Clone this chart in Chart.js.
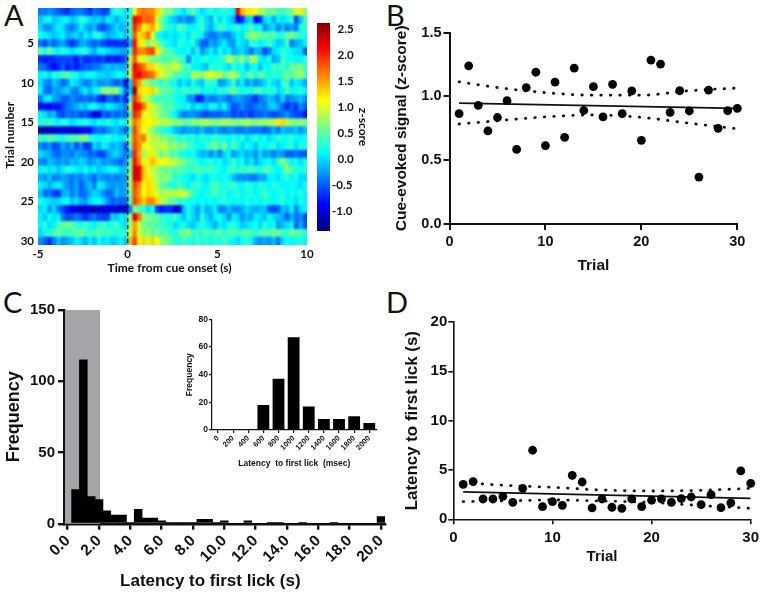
<!DOCTYPE html>
<html>
<head>
<meta charset="utf-8">
<script src="https://cdn.jsdelivr.net/npm/chart.js@4"></script>
<style>
  html, body { margin: 0; padding: 0; background: #fff; width: 762px; height: 594px; overflow: hidden; }
  canvas { position: absolute; }
  .letter { position: absolute; font: 29px Lato, sans-serif; color: #111; line-height: 29px; }
</style>
</head>
<body>
<div class="letter" style="left:4px;top:0px">A</div>
<div class="letter" style="left:386px;top:0px">B</div>
<div class="letter" style="left:3px;top:287px">C</div>
<div class="letter" style="left:386px;top:287px">D</div>
<canvas id="heat" style="left:0;top:0" width="318" height="275"></canvas>
<canvas id="bar" style="left:312px;top:0" width="58" height="250"></canvas>
<canvas id="cueChart" style="left:392px;top:20px" width="370" height="255"></canvas>
<canvas id="histChart" style="left:3px;top:295px" width="392" height="297"></canvas>
<canvas id="insetChart" style="left:185px;top:310px" width="200" height="159"></canvas>
<canvas id="latChart" style="left:402px;top:300px" width="360" height="266"></canvas>
<script>
// Heatmap: trials x 0.25 s bins from -5 to 10 s
const trialLabels = ["1","2","3","4","5","6","7","8","9","10","11","12","13","14","15","16","17","18","19","20","21","22","23","24","25","26","27","28","29","30"];
const binStarts = [-5,-4.75,-4.5,-4.25,-4,-3.75,-3.5,-3.25,-3,-2.75,-2.5,-2.25,-2,-1.75,-1.5,-1.25,-1,-0.75,-0.5,-0.25,0,0.25,0.5,0.75,1,1.25,1.5,1.75,2,2.25,2.5,2.75,3,3.25,3.5,3.75,4,4.25,4.5,4.75,5,5.25,5.5,5.75,6,6.25,6.5,6.75,7,7.25,7.5,7.75,8,8.25,8.5,8.75,9,9.25,9.5,9.75];
const zScores = [
  [-.4,-.4,-.3,-.4,-.5,-.6,-.7,-.5,-.4,-.4,-.5,-.7,-.4,-.5,-.6,-.6,.1,.3,.2,.0, .2,1.1,1.6,1.7,1.6,1.6,1.3,.9, .6,.6,.3,.2,.0,.3,.5,.2,.0,.1,.3,.1,.2,.3,.2,.1, 2.2,1.4,1.2,1.2,1.1,.8,.7,.5,.6,.4,.3,.5,.6,1.0,1.2,.7],
  [-.1,.1,.2,-.1,.0,.1,.1,-.1,.0,.3,.2,.0,-.1,.0,-.2,.1,.0,-.2,.0,.0, .4,2.2,2.0,1.7,1.8,1.7,.9,.6, .2,.0,-.1,-.3,-.2,-.4,-.3,.1,.3,.0,-.2,.3,.0,.2,.0,-.2, -.9,-.7,-.1,.0,-.9,-.7,.0,.1,-.2,.1,.0,.1,.3,-.6,-.1,.4],
  [.0,-.3,-.3,-.1,.1,.0,-.3,-.4,-.2,.1,-.1,-.3,-.1,-.5,-.6,-.4,-.2,.0,-.2,-.1, .4,2.0,1.6,1.0,1.3,1.5,1.1,.6, .3,.2,.1,.5,.3,.1,.1,.2,.4,.0,-.2,.1,.4,.3,.1,.2, .3,.1,.2,.4,.1,.2,-.3,-.1,.0,-.4,-.1,-.4,-.2,-.4,.2,.3],
  [.2,.1,.0,-.1,.0,.1,-.2,-.1,.0,-.2,.1,-.1,.2,.3,.0,-.2,-.1,.0,.1,-.1, .3,1.8,1.2,1.4,1.7,1.0,.2,.1, .0,.1,.0,.1,.2,.0,.3,.2,.1,-.3,-.4,-.4,-.2,-.3,-.4,-.1, .1,.0,.5,.7,.7,.5,.5,.4,.5,.2,.3,.5,.6,.4,.3,.2],
  [-.4,-.6,-.3,-.5,-.3,-.2,-.5,-.7,-.5,-.2,-.2,-.4,-.5,-.4,-.6,-.7,-.7,-.7,-.7,-.7, -.2,2.1,1.2,1.0,.6,.9,.7,.4, .2,.1,.0,.3,.2,.1,.3,-.1,-.5,-.5,-.2,-.3,-.1,.1,-.2,-.3, .1,.0,-.1,.3,.3,.1,.2,.4,.1,-.1,.0,.4,-.4,-.2,-.1,.1],
  [.5,.2,.6,.2,.1,.3,.1,.0,.1,.2,.3,.0,-.2,.1,.1,.0,-.1,-.1,-.2,-.2, .3,2.0,1.6,1.6,1.8,1.9,1.2,.7, .5,.4,.2,.1,.1,.2,-.1,.2,-.3,-.1,.1,-.1,.2,.0,.1,-.2, -.1,.0,-.2,-.4,-.1,-.2,-.6,-.4,.0,.1,.3,.2,.1,.0,.0,-.5],
  [-.7,-.8,-.7,-.7,-.6,-.6,-.6,-.6,-.8,-.5,-.7,-.7,-.6,-.7,-.6,-.8,-.7,-.8,-.7,-.5, .9,1.8,1.0,1.0,.8,.6,.6,.4, .4,.5,.6,.4,.3,-.4,.2,.1,.2,.3,.1,.2,.2,.4,.9,.6, .4,.8,.2,.9,.7,.1,.0,.2,-.2,-.1,.4,.2,.2,.1,.1,.3],
  [-.4,-.5,-.7,-.9,-.7,-.5,-.8,-.6,-.8,-.6,-.5,-.5,-.4,-.4,-.2,-.1,-.2,-.1,-.2,-.2, .8,2.2,1.9,1.7,1.3,1.3,1.0,.9, .8,.8,1.0,.8,.4,.4,.1,.1,.0,-.1,.3,.2,.3,.1,.0,.3, .1,.2,-.1,.1,.2,-.1,.2,.1,.4,.3,.4,.2,.6,.5,.7,.3],
  [.1,.2,.0,.3,.2,.4,.5,.3,.2,.0,.1,.2,.1,.0,.0,-.1,.0,.1,.2,.0, .9,2.1,2.2,1.9,1.8,1.7,1.3,1.0, .8,.7,.4,.4,.3,.2,.9,.8,.6,1.0,1.0,.9,.9,.5,.7,.9, .6,.2,.3,.6,.2,.5,.4,.2,.3,.2,.4,.6,.4,.7,.8,.4],
  [.0,-.3,-.4,-.1,-.2,-.5,-.3,.1,.0,-.2,-.4,-.3,-.1,-.3,-.3,-.2,-.4,-.5,-.4,-1.0, -.1,1.9,1.5,.8,.7,.5,.4,.3, .5,.2,.2,-.1,.1,-.1,.2,.0,-.1,.3,.3,.2,-.3,-.2,.0,.3, -.1,.1,-.3,-.1,-.3,-.2,.0,.2,.0,-.1,.3,.4,-.1,.1,.0,-.2],
  [.1,-.4,-.5,-.2,-.3,-.1,.0,-.3,-.4,-.1,.1,-.2,.1,.2,.7,.7,.6,.8,.1,-.5, -.1,2.6,1.3,1.2,1.2,1.3,.9,.5, .5,.5,.3,.2,.4,.3,.3,.4,.1,.2,.2,.1,.3,.2,.4,.6, .3,.2,.3,.2,.4,.4,.2,.3,.3,.0,.1,.5,.1,.2,.3,.1],
  [-.4,.0,.1,-.2,-.3,-.5,-.5,-.3,-.4,-.5,-.4,-.5,-.4,-.7,-.8,-.5,-.5,-.7,-.4,-.8, .3,2.0,1.5,.9,.8,.5,.3,.4, .3,.4,.2,.1,.1,-.3,-.3,-.8,-.7,-.3,-.4,-.4,-.2,-.3,-.5,-.3, -.2,-.3,-.4,-.5,-.7,-.4,-.3,-.1,-.2,-.4,.0,-.4,-.3,-.2,-.1,-.3],
  [-.8,-.8,-.9,-.8,-.8,-.6,-.4,-.3,-.2,.0,-.1,.1,.2,.0,-.1,.1,.0,-.1,-.2,-.4, .9,2.3,2.1,1.7,1.2,.9,.7,.6, .4,.5,.3,.2,.1,.2,-.1,.1,.0,-.1,.2,.1,-.1,.2,-.2,-.6, -.5,-.3,-.5,-.5,-.4,-.3,-.4,-.1,.0,-.2,-.5,-.7,-.5,-.7,-.3,-.5],
  [.1,.0,-.2,-.1,-.5,-.6,-.4,-.5,-.4,-.6,-.5,-.7,-1.0,-1.0,-.5,-.6,-.4,-.5,-.4,-.5, .4,2.0,1.8,1.1,1.0,.9,.8,.6, .5,.3,.1,-.2,-.4,-.3,-.3,-.4,-.5,-.6,-.5,-.5,-.5,-.4,-.4,-.6, -.5,-.6,-.5,-.7,-.5,-.5,-.4,-.5,-.6,-.5,-.4,-.3,-.5,-.6,-.6,-.8],
  [.2,.3,.4,.2,.1,.3,.2,.0,.1,.2,.3,.1,.0,.2,.1,.3,.1,.0,.2,.1, .9,1.7,1.4,1.2,1.1,1.2,.9,.8, .9,.8,.6,.7,.5,.5,.7,.6,.8,.8,.7,.6,.7,.8,.7,.7, .6,.7,.8,.7,.6,.7,.7,.8,.8,1.2,1.3,.8,.7,.6,.7,.6],
  [-1.2,-1.2,-1.1,-1.1,-1.0,-1.0,-1.0,-1.0,-1.1,-.9,-.8,-.9,-.5,-.4,-.5,-.3,-.2,-.1,-.3,-.5, .3,1.9,1.4,1.1,.9,.7,.4,.3, .2,.1,-.1,-.2,-.3,-.2,-.2,-.3,-.1,-.3,-.3,-.2,-.3,-.4,-.3,-.3, -.4,-.4,-.3,-.4,-.4,-.4,-.5,-.4,-.2,-.4,-.1,-.2,-.2,-.1,-.3,-.1],
  [.4,.3,.5,.4,.3,.2,.4,.5,.4,.6,.7,.3,.2,.1,.2,.3,.1,.1,.0,.1, .7,1.8,1.5,1.7,1.0,.8,.9,.6, .7,.4,.5,.2,.4,.2,.3,.1,.3,.2,.2,.4,.2,.2,.1,.3, .1,.3,.0,.1,.3,.1,.2,.0,.1,.3,.2,.2,.3,.1,.1,.2],
  [-.3,-.5,-.3,-.6,-.5,-.2,-.4,-.2,-.6,-.3,-.7,-.6,.0,-.2,.1,.0,-.2,-.1,-.2,-.6, .5,1.9,1.6,1.0,1.1,.9,.8,.9, .9,.6,.8,.5,.6,.4,.3,.2,.1,.3,.5,.6,.3,.7,.1,.5, .2,.0,.2,.1,-.1,.2,.1,.2,.3,.0,.1,.2,.3,.0,.3,.2],
  [.0,-.1,-.2,-.4,-.5,-.3,-.3,-.4,-.2,-.3,-.3,-.5,-.4,-.6,-.6,-.3,-.1,.0,-.2,-.4, -.1,2.0,1.5,.8,.9,1.2,.8,.5, .8,.4,.5,.3,.2,.1,.2,.0,-.2,-.1,-.3,-.1,-.4,.0,.1,-.3, -.1,.0,-.2,-.1,-.3,.0,-.3,-.2,-.4,-.2,-.3,-.5,-.5,-.4,-.5,-.5],
  [-.3,-.4,-.1,-.2,-.3,-.2,-.3,-.1,-.2,.0,-.1,-.3,-.2,-.1,-.3,-.2,-.3,-.4,-.5,-.3, .6,2.1,1.6,1.0,1.2,1.4,1.2,1.1, 1.1,.9,.9,.7,.6,.4,.4,.2,.1,.2,.3,.1,.2,.0,.1,.4, .1,.2,-.1,.1,-.2,.0,.1,.2,.0,.3,.7,.4,.1,.2,.0,.2],
  [.1,.2,.0,.1,-.1,.1,.3,.2,.1,.0,.2,.0,.1,-.1,.0,.1,.2,.1,-.1,-.1, .7,2.3,2.2,1.4,1.0,.9,.7,.6, .5,.6,.4,.5,.4,.3,.3,.5,.4,.3,.4,.3,.2,.1,.3,.4, .2,.4,.3,.4,.3,.2,.5,.4,.2,.1,.3,.7,.4,.3,.2,.3],
  [-.2,-.3,-.1,-.4,-.3,-.2,-.3,-.4,-.3,-.4,-.2,-.3,-.5,-.2,-.3,-.4,-.3,-.4,-.3,-.3, .8,2.3,2.2,1.3,1.2,.9,.8,.6, .7,.5,.3,.3,.2,.1,.0,.2,.1,.0,.2,.2,.1,.2,.1,-.1, -.3,-.3,-.3,-.4,-.4,-.2,-.2,.1,.1,.0,.2,.3,.1,.2,.0,.0],
  [.1,.0,-.2,.0,.1,-.1,-.3,-.4,-.2,-.5,-.3,-.1,-.4,.1,.0,-.2,-.3,-.2,-.3,-.2, .8,1.9,1.6,1.1,1.3,1.2,.8,.5, .4,.3,.2,.5,.2,.1,.3,.4,.2,.1,.3,.5,.3,.2,.3,.4, .2,.1,.3,.2,.1,.3,.2,.1,.3,.2,.1,.1,.2,.1,.0,.2],
  [-.1,-.5,-.4,-.6,-.7,-.2,-.1,-.4,-.2,-.5,-.4,-.2,.0,-.1,-.3,-.5,-.4,-.1,-.3,-.2, .6,1.8,1.5,1.1,1.3,1.2,1.0,.7, .9,.8,.9,.9,1.0,.7,.3,.2,.1,.2,.3,.4,.2,.3,.1,.2, .3,.1,.2,.3,.1,.2,.4,.2,.1,.2,.3,.1,.2,.1,.3,.1],
  [.2,.1,.0,-.1,.0,.1,.2,-.1,.0,-.2,-.3,.0,.1,.2,.0,-.3,-.5,-.4,-.5,-.5, .5,1.9,1.6,1.3,1.6,1.6,1.3,.9, .7,.5,.5,.3,.3,.2,.2,.1,.2,.1,.2,.1,.2,.3,.2,.1, .2,.1,.3,.1,.2,.1,.3,.2,.1,.2,.3,.1,.2,.0,.2,.1],
  [.0,.1,-.3,.0,-.4,-.6,-.8,-.9,-1.0,-1.1,-1.0,-1.1,-1.2,-1.0,-1.1,-1.0,-1.0,-1.1,-1.0,-1.2, -.4,.7,.4,.3,.0,.2,-.6,-.8, -.7,-.7,-1.0,-1.0,-.1,.2,.0,-.3,.1,-.2,-.1,.1,-.4,-.3,-.1,-.3, -.3,-.2,.0,-.1,-.2,-.1,-.1,-.5,-.6,-.5,-.1,-.2,.1,-.4,.0,.1],
  [.1,-.1,.2,.0,.1,-.4,-.6,-.5,-.4,-.5,-.7,-.5,-.4,-.6,-.6,-.6,.0,-.1,.1,.0, .8,2.3,1.7,.7,.6,.5,.5,.3, .3,.2,.4,.1,-.1,.2,.0,-.2,.3,.0,-.2,.1,.2,.0,-.3,.1, .0,-.3,-.1,-.2,.1,.0,-.1,.2,.0,-.1,-.2,-.5,-.2,-.4,-.3,-.6],
  [.1,.3,.0,.1,.4,.5,.6,.5,.3,.2,.4,.2,.1,.3,.4,.2,.3,.4,.1,.0, .8,1.5,.9,.6,.5,.5,.4,.4, .2,.3,.0,.1,.2,.0,-.1,.1,.3,.1,.0,-.2,.1,.0,.2,.3, .1,-.1,.0,.1,.2,.0,.3,.1,.2,-.3,-.1,.0,.1,-.5,-.2,-.5],
  [.0,.2,.3,.4,.5,.4,.3,.4,.5,.6,.4,.3,.4,.5,.3,.4,.3,.2,.4,.2, 1.0,1.6,.9,.7,.7,.5,.6,.4, .5,.3,.2,.5,.6,.7,.3,.4,.3,.5,.3,.4,.5,.3,.4,.5, .3,.4,.5,.4,.3,.4,.5,.4,.6,.5,.4,.3,.6,.5,.4,.3],
  [-.3,-.5,-.7,-.4,-.1,-.3,-.2,-.1,.1,.0,-.2,.1,-.1,.2,.0,.1,-.1,.0,.1,-.1, 1.4,1.9,1.1,1.3,.9,1.3,1.1,.7, .6,.5,.3,.2,.4,.3,.2,.4,.2,.3,.2,.3,.2,.4,.2,.1, .0,.2,.3,.1,-.2,-.3,-.2,-.3,-.1,-.4,.0,.2,.1,.2,.3,.1]
];
const zMin = -1.37, zMax = 2.63;
const barTicks = [-1, -0.5, 0, 0.5, 1, 1.5, 2, 2.5];

// Cue-evoked signal by trial
const trials = [1,2,3,4,5,6,7,8,9,10,11,12,13,14,15,16,17,18,19,20,21,22,23,24,25,26,27,28,29,30];
const cueSignal = [.865,1.24,.93,.73,.835,.967,.585,1.07,1.19,.615,1.113,.68,1.223,.89,1.077,.84,1.095,.865,1.043,.656,1.285,1.254,.875,1.045,.886,.368,1.05,.75,.888,.907];
const cueFit = [.948, .907];
const bandTrials = [1,5,10,15,20,25,30];
const cueUpper = [1.115,1.07,1.03,1.01,1.01,1.045,1.066];
const cueLower = [.784,.81,.84,.855,.836,.79,.747];

// Latency histogram
const latencyBins = [.5,1,1.5,2,2.5,3,3.5,4,4.5,5,5.5,6,6.5,7,7.5,8,8.5,9,9.5,10,10.5,11,11.5,12,12.5,13,13.5,14,14.5,15,15.5,16,16.5,17,17.5,18,18.5,19,19.5,20];
const latencyFreq = [24,115,19,17,9,6,6,1,10,4,4,2,1,1,1,1,3,3,1,2,0,0,2,0,0,1,1,0,0,1,0,0,0,1,0,0,0,0,0,5];
const shadedRange = [-0.17, 2.07];

// Inset histogram (msec)
const insetBins = [0,200,400,600,800,1000,1200,1400,1600,1800,2000];
const insetFreq = [0,0,0,18,37,67,17,8,8,10,5];

// Latency by trial
const latency = [3.55,3.82,2.06,2.06,2.33,1.72,3.14,7.0,1.28,1.79,1.42,4.46,3.78,1.15,2.06,1.22,1.11,2.06,1.28,1.93,2.06,1.72,2.09,2.26,1.49,2.5,1.18,1.66,4.9,3.65];
const latFit = [2.77, 2.13];
const latUpper = [3.75,3.45,3.24,2.97,2.87,2.94,3.14];
const latLower = [1.79,1.86,1.96,1.86,1.7,1.39,1.11];

Chart.defaults.animation = false;
Chart.defaults.responsive = false;
Chart.defaults.plugins.legend.display = false;
Chart.defaults.plugins.tooltip.enabled = false;
Chart.defaults.color = "#111";

const INK = "#111";
const arial = (size) => ({ family: '"Liberation Sans"', size: size, weight: "bold" });
const lato = (size) => ({ family: "Lato", size: size, weight: "bold" });

function jet(z) {
  const t = (z - zMin) / (zMax - zMin);
  const c = (v) => Math.round(255 * Math.min(1, Math.max(0, v)));
  return `rgb(${c(1.5 - Math.abs(4 * t - 3))},${c(1.5 - Math.abs(4 * t - 2))},${c(1.5 - Math.abs(4 * t - 1))})`;
}

// pin the axis boxes so the plot areas land where they should
const fixX = (h) => (s) => { s.height = h; s.paddingLeft = 0; s.paddingRight = 0; };
const fixY = (w) => (s) => { s.width = w; s.paddingTop = 0; s.paddingBottom = 0; };

function inkAxis(o) {
  const axis = {
    type: "linear",
    min: o.min,
    max: o.max,
    offset: false,
    border: { display: true, color: INK, width: o.lw },
    grid: { offset: false, drawOnChartArea: false, drawTicks: true, tickLength: o.tick, color: INK, lineWidth: o.lw },
    ticks: {
      stepSize: o.step,
      includeBounds: false,
      font: o.font,
      padding: o.pad,
      autoSkip: false,
      maxRotation: o.rot || 0,
      minRotation: o.rot || 0,
      callback: o.fmt || ((v) => v),
    },
    title: { display: true, text: o.title, font: o.titleFont, padding: 0 },
    afterFit: o.fit,
  };
  if (o.at) axis.afterBuildTicks = (s) => { s.ticks = o.at.map((v) => ({ value: v })); };
  return axis;
}

// --- A: heatmap, one floating bar per bin per trial
const heatSmooth = {
  id: "heatSmooth",
  afterDatasetsDraw(chart) {
    const { ctx, chartArea: a, scales } = chart;
    const w = a.right - a.left, h = a.bottom - a.top;
    ctx.save();
    ctx.beginPath();
    ctx.rect(a.left, a.top, w, h);
    ctx.clip();
    ctx.filter = "blur(1.2px)";
    ctx.drawImage(chart.canvas, a.left, a.top, w, h, a.left, a.top, w, h);
    ctx.filter = "none";
    const x0 = scales.x.getPixelForValue(0);
    ctx.strokeStyle = "#0a1a2a";
    ctx.lineWidth = 1.4;
    ctx.setLineDash([4, 3]);
    ctx.beginPath();
    ctx.moveTo(x0, a.top);
    ctx.lineTo(x0, a.bottom);
    ctx.stroke();
    ctx.restore();
  },
};

new Chart(document.getElementById("heat"), {
  type: "bar",
  plugins: [heatSmooth],
  data: {
    labels: trialLabels,
    datasets: binStarts.map((t, col) => ({
      data: trialLabels.map(() => [t, t + 0.25]),
      backgroundColor: zScores.map((row) => jet(row[col])),
      grouped: false,
      barPercentage: 1,
      categoryPercentage: 1,
    })),
  },
  options: {
    indexAxis: "y",
    layout: { padding: { top: 8, right: 11 } },
    scales: {
      x: {
        type: "linear",
        min: -5,
        max: 10,
        grid: { display: false, drawTicks: false },
        border: { display: false },
        ticks: { stepSize: 5, font: lato(11.5), padding: 2 },
        title: { display: true, text: "Time from cue onset (s)  ", font: lato(12), padding: 0 },
        afterFit: fixX(30),
      },
      y: {
        grid: { display: false, drawTicks: false },
        border: { display: false },
        ticks: {
          autoSkip: false,
          font: lato(11.5),
          padding: 4,
          callback: (v, i) => ((i + 1) % 5 === 0 ? trialLabels[i] : ""),
        },
        title: { display: true, text: "Trial number      ", font: lato(12), padding: { top: 3 } },
        afterFit: fixY(38),
      },
    },
  },
});

// --- A: colour bar
const barSteps = [];
for (let z = zMin; z < zMax; z += 0.04) barSteps.push(z);
new Chart(document.getElementById("bar"), {
  type: "bar",
  data: {
    labels: ["z"],
    datasets: barSteps.map((z) => ({
      data: [[z, z + 0.05]],
      backgroundColor: jet(z + 0.02),
      grouped: false,
      barPercentage: 1,
      categoryPercentage: 1,
    })),
  },
  options: {
    layout: { padding: { left: 5, top: 23, bottom: 19 } },
    scales: {
      x: { display: false },
      y: {
        type: "linear",
        position: "right",
        min: zMin,
        max: zMax,
        grid: { display: false, drawTicks: false },
        border: { display: false },
        afterBuildTicks: (s) => { s.ticks = barTicks.map((v) => ({ value: v })); },
        ticks: { font: lato(11.5), padding: 2, callback: (v) => (v < 0 ? "" : "  ") + v.toFixed(1) },
        title: { display: true, text: "z-score", font: lato(12), padding: 0 },
        afterFit: fixY(40),
      },
    },
  },
});

// --- B and D: scatter with fit and confidence band
function fitChart(id, values, fit, upper, lower, xAxis, yAxis, padding) {
  const dotted = (ys) => ({
    data: bandTrials.map((t, i) => ({ x: t, y: ys[i] })),
    showLine: true,
    pointRadius: 0,
    borderColor: INK,
    borderWidth: 2.8,
    borderCapStyle: "round",
    borderDash: [0.5, 9],
    cubicInterpolationMode: "monotone",
  });
  new Chart(document.getElementById(id), {
    type: "scatter",
    data: {
      datasets: [
        { data: trials.map((t, i) => ({ x: t, y: values[i] })), backgroundColor: "#000", borderWidth: 0, pointRadius: 4.4, clip: false },
        { data: [{ x: 1, y: fit[0] }, { x: 30, y: fit[1] }], showLine: true, pointRadius: 0, borderColor: INK, borderWidth: 1.8 },
        dotted(upper),
        dotted(lower),
      ],
    },
    options: { layout: { padding: padding }, scales: { x: xAxis, y: yAxis } },
  });
}

fitChart("cueChart", cueSignal, cueFit, cueUpper, cueLower,
  inkAxis({ min: 0, max: 30, step: 10, lw: 2, tick: 6, font: arial(14.5), pad: 3, title: "Trial", titleFont: arial(15.5), fit: fixX(51) }),
  inkAxis({ min: 0, max: 1.5, step: 0.5, lw: 2, tick: 6, font: arial(14.5), pad: 2, title: "Cue-evoked signal (z-score)", titleFont: arial(15.5), fit: fixY(57.5), fmt: (v) => v.toFixed(1) }),
  { top: 12.7, right: 24.7 });

fitChart("latChart", latency, latFit, latUpper, latLower,
  inkAxis({ min: 0, max: 30, step: 10, lw: 1.6, tick: 5, font: arial(15), pad: 5, title: "Trial", titleFont: arial(15), fit: fixX(46.7) }),
  inkAxis({ min: 0, max: 20, step: 5, lw: 1.6, tick: 5, font: arial(15), pad: 1, title: "Latency to first lick (s)", titleFont: arial(16.9), fit: fixY(51.3) }),
  { top: 22, right: 11.3 });

// --- C: histogram with shaded window
const shade = {
  id: "shade",
  beforeDatasetsDraw(chart) {
    const { ctx, chartArea: a, scales } = chart;
    const x0 = scales.x.getPixelForValue(shadedRange[0]);
    const x1 = scales.x.getPixelForValue(shadedRange[1]);
    ctx.save();
    ctx.fillStyle = "#a4a4a9";
    ctx.fillRect(x0, a.top, x1 - x0, a.bottom - a.top);
    ctx.restore();
  },
};

new Chart(document.getElementById("histChart"), {
  type: "bar",
  plugins: [shade],
  data: {
    datasets: [{
      data: latencyBins.map((b, i) => ({ x: b, y: latencyFreq[i] })),
      backgroundColor: "#000",
      barPercentage: 1,
      categoryPercentage: 1,
    }],
  },
  options: {
    layout: { padding: { top: 15, right: 10 } },
    scales: {
      x: inkAxis({ min: -0.236, max: 20.255, step: 2, lw: 2.4, tick: 6, rot: 45, font: arial(15.5), pad: 2, title: "Latency to first lick (s)      ", titleFont: arial(17), fit: fixX(68.3), fmt: (v) => v.toFixed(1) }),
      y: inkAxis({ min: 0, max: 150, step: 50, lw: 2.4, tick: 6, font: arial(15), pad: 3, title: "Frequency", titleFont: arial(18), fit: fixY(61) }),
    },
  },
});

// --- C: inset
new Chart(document.getElementById("insetChart"), {
  type: "bar",
  data: {
    datasets: [{
      data: insetBins.map((b, i) => ({ x: b, y: insetFreq[i] })),
      backgroundColor: "#000",
      barPercentage: 0.78,
      categoryPercentage: 1,
    }],
  },
  options: {
    layout: { padding: { top: 9.3, right: 8.3 } },
    scales: {
      x: inkAxis({ min: -79, max: 2098, at: insetBins, lw: 1.2, tick: 3, rot: 45, font: arial(7.5), pad: 1, title: "Latency  to first lick  (msec)", titleFont: arial(8.5), fit: fixX(39) }),
      y: inkAxis({ min: 0, max: 80, step: 20, lw: 1.2, tick: 3, font: arial(8.5), pad: 1, title: "Frequency", titleFont: arial(8.5), fit: fixY(27) }),
    },
  },
});
</script>
</body>
</html>
